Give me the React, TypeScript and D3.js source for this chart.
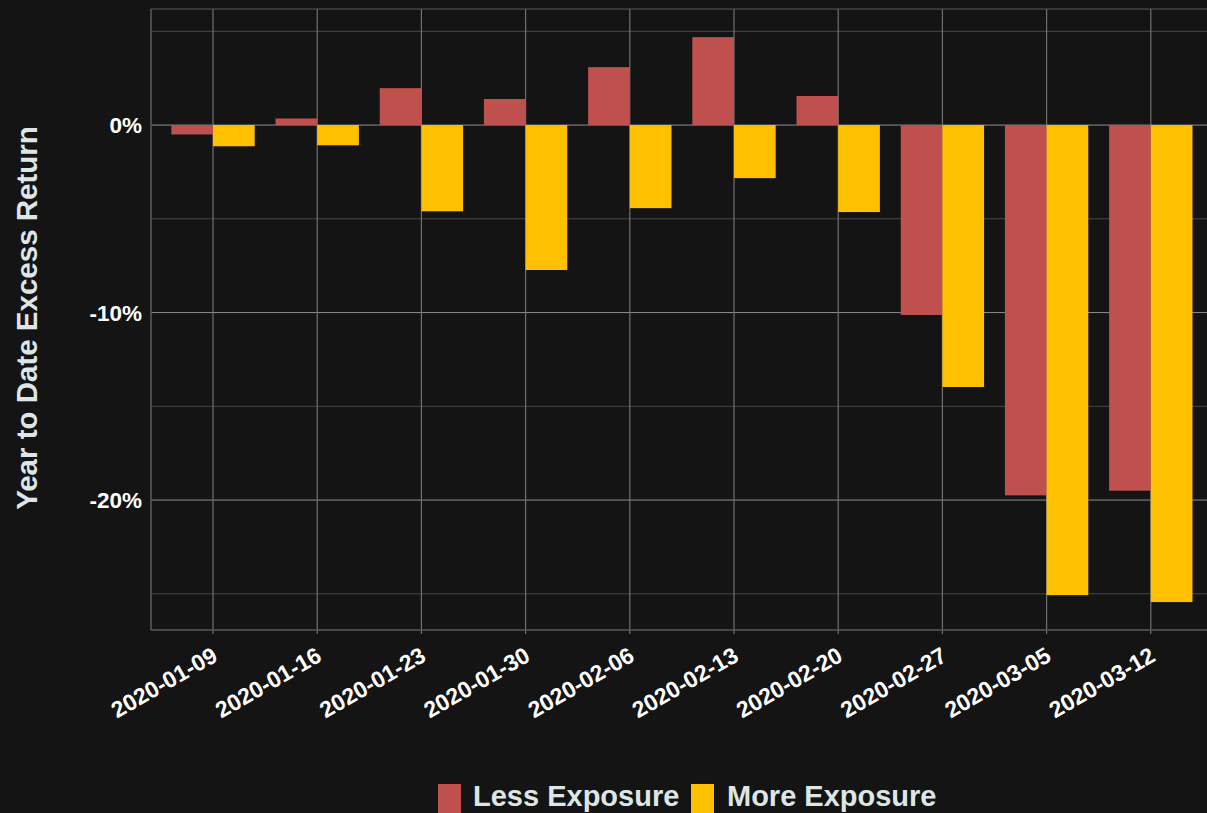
import React from "react";
import * as d3 from "d3";

const dates = ["2020-01-09","2020-01-16","2020-01-23","2020-01-30","2020-02-06","2020-02-13","2020-02-20","2020-02-27","2020-03-05","2020-03-12"];
const lessExposure = [-0.5, 0.35, 1.97, 1.39, 3.09, 4.69, 1.55, -10.13, -19.75, -19.5];
const moreExposure = [-1.13, -1.08, -4.6, -7.73, -4.43, -2.83, -4.64, -13.97, -25.07, -25.44];
const seriesNames = ["Less Exposure", "More Exposure"];
const seriesColors = ["#c0504d", "#ffc000"];
const majorTicks = [0, -10, -20];
const minorTicks = [5, -5, -15, -25];

const W = 1207, H = 813;
const BG = "#141414";

export default function App() {
  const left = 151, top = 9, bottom = 630;
  const step = 104.2;
  const firstTick = 213;
  const x = d3.scaleBand<string>()
    .domain(dates)
    .range([firstTick - step / 2, firstTick - step / 2 + step * dates.length])
    .paddingInner(0).paddingOuter(0);
  const y = d3.scaleLinear().domain([6.19, -26.93]).range([top, bottom]);
  const sub = d3.scaleBand<string>().domain(seriesNames).range([0, x.bandwidth()]).paddingOuter(0.25).paddingInner(0);
  const font = "'Liberation Sans', Arial, sans-serif";
  const series = [lessExposure, moreExposure];

  return (
    <svg width={W} height={H} style={{ position: "absolute", left: 0, top: 0, display: "block" }} fontFamily={font}>
      <rect x={0} y={0} width={W} height={H} fill={BG} />
      {minorTicks.map(t => (
        <line key={"mn" + t} x1={left} x2={W} y1={y(t)} y2={y(t)} stroke="#4a4a4a" strokeWidth={1} />
      ))}
      {majorTicks.map(t => (
        <line key={"mj" + t} x1={left} x2={W} y1={y(t)} y2={y(t)} stroke="#8e8e8e" strokeWidth={1} />
      ))}
      {dates.map(d => (
        <line key={"v" + d} x1={x(d)! + x.bandwidth() / 2} x2={x(d)! + x.bandwidth() / 2} y1={top} y2={bottom + 4} stroke="#707070" strokeWidth={1.2} />
      ))}
      <line x1={left} x2={W} y1={top} y2={top} stroke="#5a5a5a" />
      <line x1={left} x2={W} y1={bottom} y2={bottom} stroke="#5a5a5a" strokeWidth={1.5} />
      <line x1={left} x2={left} y1={top} y2={bottom} stroke="#5a5a5a" strokeWidth={1.5} />
      {series.map((vals, si) => (
        <g key={"s" + si}>
          {vals.map((v, i) => {
            const x0 = x(dates[i])! + sub(seriesNames[si])!;
            const y0 = y(Math.max(0, v));
            const h = Math.abs(y(v) - y(0));
            return <rect key={i} x={x0} y={y0} width={sub.bandwidth()} height={h} fill={seriesColors[si]} />;
          })}
        </g>
      ))}
      {majorTicks.map(t => (
        <text key={"yt" + t} x={142} y={y(t)} dy="0.36em" textAnchor="end" fill="#ffffff" fontWeight="bold" fontSize={22.5}>
          {t + "%"}
        </text>
      ))}
      {dates.map(d => {
        const cx = x(d)! + x.bandwidth() / 2;
        return (
          <text key={"xt" + d} transform={`translate(${cx + 6},${bottom + 30}) rotate(-30)`} textAnchor="end" fill="#ffffff" fontWeight="bold" fontSize={23}>
            {d}
          </text>
        );
      })}
      <text transform={`translate(37,318) rotate(-90)`} textAnchor="middle" fill="#dde6e6" fontWeight="bold" fontSize={29.5}>
        Year to Date Excess Return
      </text>
      <g>
        <rect x={438} y={784} width={23} height={29} fill={seriesColors[0]} />
        <text x={473} y={806} fill="#dde6e6" fontWeight="bold" fontSize={29}>{seriesNames[0]}</text>
        <rect x={691} y={784} width={23} height={29} fill={seriesColors[1]} />
        <text x={727} y={806} fill="#dde6e6" fontWeight="bold" fontSize={29}>{seriesNames[1]}</text>
      </g>
    </svg>
  );
}
